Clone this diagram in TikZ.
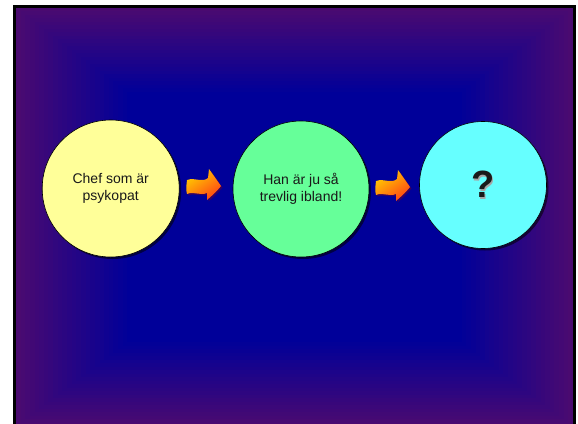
\documentclass[tikz,border=0pt]{standalone}
\usepackage{fontspec}
\setmainfont{Liberation Sans}
\usepackage{xcolor}
\usepackage{tikz}
\usetikzlibrary{shadows}

\definecolor{slideblue}{RGB}{0,0,153}
\definecolor{slidepurple}{RGB}{74,10,112}
\definecolor{bubbleyellow}{RGB}{255,255,153}
\definecolor{bubblegreen}{RGB}{102,255,153}
\definecolor{bubblecyan}{RGB}{102,255,255}
\definecolor{arrowtop}{RGB}{255,205,0}
\definecolor{arrowbottom}{RGB}{255,70,20}

\tikzset{
  bubble/.style={circle, draw=black, line width=0.6pt, align=center,
    text=black!90, font=\fontsize{14}{16.5}\selectfont,
    drop shadow={shadow xshift=2pt, shadow yshift=-2pt, fill=black, opacity=0.55}},
  pics/flowarrow/.style={code={
    \path[drop shadow={shadow xshift=1.5pt, shadow yshift=-1.5pt, fill=violet!60!black, opacity=0.7},
          top color=arrowtop, bottom color=arrowbottom, shading angle=35]
      (-17,-6) .. controls (-9,-9) and (-2,-3) .. (4,-8)
      -- (5,-17) .. controls (10,-10) .. (17,0)
      .. controls (12,6) .. (3,14)
      -- (3,7) .. controls (-4,10) and (-10,5) .. (-17,8)
      .. controls (-18,3) .. cycle;
  }}
}

\begin{document}
\begin{tikzpicture}[x=1pt,y=-1pt]
    %%% COORDINATES %%%
    \useasboundingbox (0,0) rectangle (578,423.4);
    \coordinate (pil1) at (204,186);
    \coordinate (pil2) at (393,187);

    %%% SLIDE %%%
    \fill[white] (0,0) rectangle (578,430);
    % black edge on three sides, the slide runs off at the bottom
    \fill[black] (13,5) rectangle (576,8);
    \fill[black] (13,5) rectangle (16,430);
    \fill[black] (573,5) rectangle (576,430);
    \foreach \i in {0,...,24}{
        \pgfmathsetmacro\t{0.2*\i/24}
        \pgfmathsetmacro\mix{100-100*\i/24}
        \fill[slidepurple!\mix!slideblue] ({16+557*\t},{8+418*\t}) rectangle ({573-557*\t},{426-418*\t});
    }

    %%% BUBBLES %%%
    \node[bubble, fill=bubbleyellow, minimum size=137pt] (chef) at (110.7,188.5) {Chef som är\\psykopat};
    \node[bubble, fill=bubblegreen, minimum size=136pt] (trevlig) at (301,189) {Han är ju så\\trevlig ibland!};
    \node[bubble, fill=bubblecyan, minimum size=127pt, font=\fontsize{38}{38}\selectfont\bfseries] (fraga) at (483,185)
        {\makebox[0pt][l]{\hspace{1.5pt}\raisebox{-1.5pt}{\color{black!35}?}}?};

    %%% ARROWS %%%
    \pic at (pil1) {flowarrow};
    \pic at (pil2) {flowarrow};
\end{tikzpicture}
\end{document}
